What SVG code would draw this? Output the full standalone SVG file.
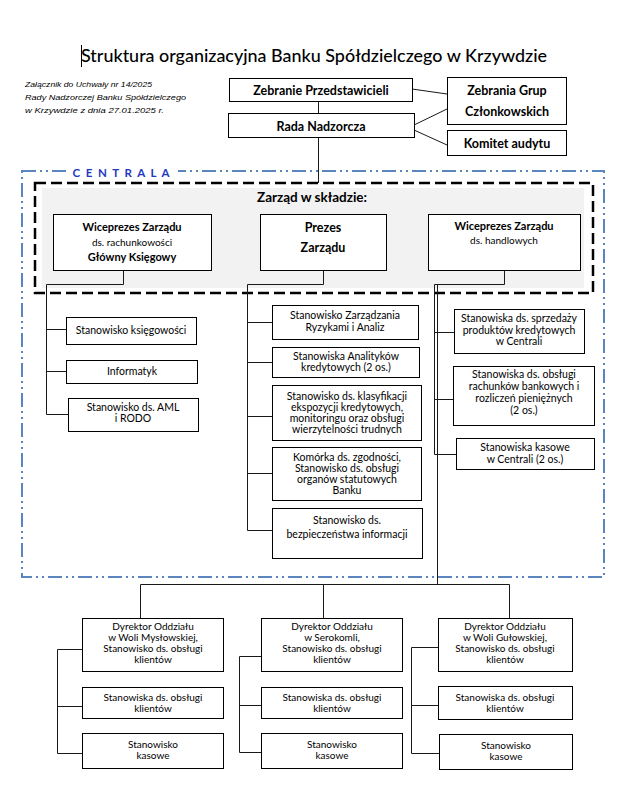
<svg xmlns="http://www.w3.org/2000/svg" width="620" height="801" viewBox="0 0 620 801">
<style>
.bx{fill:#fff;stroke:#000;stroke-width:1}
.ln{fill:none;stroke:#1a1a1a;stroke-width:1}
text{font-family:Lato,"Open Sans","Liberation Sans",sans-serif;fill:#000;text-anchor:middle}
.t{font-size:10.5px}
.s{font-size:10px}
.b{font-weight:bold;font-size:12.5px}
.bs{font-weight:bold;font-size:11px}
.note{font-family:"Liberation Sans",sans-serif;font-style:italic;font-size:8px;text-anchor:start}
</style>
<rect width="620" height="801" fill="#fff"/>
<g id="title">
<line x1="81.5" y1="45" x2="81.5" y2="67" stroke="#000" stroke-width="1"/>
<text x="314" y="62" style="font-size:17px;font-weight:500" textLength="466" lengthAdjust="spacingAndGlyphs">Struktura organizacyjna Banku Spółdzielczego w Krzywdzie</text>
</g>
<g id="note">
<text class="note" x="25" y="87" textLength="127" lengthAdjust="spacingAndGlyphs">Załącznik do Uchwały nr 14/2025</text>
<text class="note" x="25" y="100" textLength="161" lengthAdjust="spacingAndGlyphs">Rady Nadzorczej Banku Spółdzielczego</text>
<text class="note" x="25" y="113" textLength="139" lengthAdjust="spacingAndGlyphs">w Krzywdzie z dnia 27.01.2025 r.</text>
</g>
<g id="centrala">
<rect x="22" y="171" width="582" height="406" fill="none" stroke="#5a85bf" stroke-width="2" stroke-dasharray="14 4 2 4 2 4"/>
<rect x="66" y="164" width="112" height="14" fill="#fff"/>
<text x="121" y="176.5" style="font-size:11.5px;font-weight:bold;fill:#2238c4" textLength="97" lengthAdjust="spacing">C E N T R A L A</text>
</g>
<g id="zarzad">
<rect x="42" y="188" width="542" height="100" fill="#f2f2f2"/>
<rect x="35" y="183" width="558" height="110" fill="none" stroke="#000" stroke-width="2.5" stroke-dasharray="11 5"/>
<text x="312" y="202" style="font-size:13.5px;font-weight:bold">Zarząd w składzie:</text>
</g>
<g id="connectors">
<line class="ln" x1="318.5" y1="101" x2="318.5" y2="113"/>
<line class="ln" x1="412" y1="89" x2="447" y2="94"/>
<line class="ln" x1="414" y1="125" x2="447" y2="109"/>
<line class="ln" x1="414" y1="130" x2="447" y2="145"/>
<line class="ln" x1="318.5" y1="137" x2="318.5" y2="183"/>
<polyline class="ln" points="123.5,270 123.5,284.5 46.5,284.5 46.5,414.5 68,414.5"/>
<line class="ln" x1="46.5" y1="329.5" x2="66" y2="329.5"/>
<line class="ln" x1="46.5" y1="371.5" x2="66" y2="371.5"/>
<polyline class="ln" points="323.5,270 323.5,284.5 247.5,284.5 247.5,530.5 272,530.5"/>
<line class="ln" x1="247.5" y1="322.5" x2="272" y2="322.5"/>
<line class="ln" x1="247.5" y1="362.5" x2="272" y2="362.5"/>
<line class="ln" x1="247.5" y1="416.5" x2="272" y2="416.5"/>
<line class="ln" x1="247.5" y1="473.5" x2="272" y2="473.5"/>
<polyline class="ln" points="504.5,270 504.5,284.5 434.5,284.5 434.5,454.5 456,454.5"/>
<line class="ln" x1="434.5" y1="332.5" x2="454" y2="332.5"/>
<line class="ln" x1="434.5" y1="399.5" x2="453" y2="399.5"/>
<polyline class="ln" points="437.5,284.5 437.5,584.5"/>
<polyline class="ln" points="140.5,618 140.5,584.5 509.5,584.5 509.5,618"/>
<line class="ln" x1="323.5" y1="584.5" x2="323.5" y2="618"/>
<polyline class="ln" points="82,649.5 57.5,649.5 57.5,753.5 82,753.5"/>
<line class="ln" x1="57.5" y1="706.5" x2="82" y2="706.5"/>
<polyline class="ln" points="261,656.5 239.5,656.5 239.5,752.5 261,752.5"/>
<line class="ln" x1="239.5" y1="705.5" x2="261" y2="705.5"/>
<polyline class="ln" points="438,647.5 411.5,647.5 411.5,753.5 439,753.5"/>
<line class="ln" x1="411.5" y1="705.5" x2="438" y2="705.5"/>
</g>
<g id="zebranie"><rect class="bx" x="229.5" y="78.5" width="183" height="23"/><text class="b" x="321" y="94.5">Zebranie Przedstawicieli</text></g>
<g id="rada"><rect class="bx" x="228.5" y="113.5" width="186" height="24"/><text class="b" x="321" y="130.5">Rada Nadzorcza</text></g>
<g id="grupy"><rect class="bx" x="447.5" y="77.5" width="119" height="47"/><text class="b" x="507" y="95">Zebrania Grup</text><text class="b" x="507" y="116">Członkowskich</text></g>
<g id="komitet"><rect class="bx" x="447.5" y="130.5" width="119" height="25"/><text class="b" x="507" y="147.5">Komitet audytu</text></g>
<g id="wiceprezes-rach"><rect class="bx" x="53.5" y="214.5" width="158" height="56"/><text class="bs" x="132" y="231">Wiceprezes Zarządu</text><text class="s" x="132" y="245.5">ds. rachunkowości</text><text class="bs" x="132" y="261">Główny Księgowy</text></g>
<g id="prezes"><rect class="bx" x="260.5" y="214.5" width="126" height="56"/><text class="b" x="323" y="232">Prezes</text><text class="b" x="323" y="252">Zarządu</text></g>
<g id="wiceprezes-handl"><rect class="bx" x="428.5" y="214.5" width="152" height="56"/><text class="bs" x="504" y="229.5">Wiceprezes Zarządu</text><text class="s" x="504" y="244">ds. handlowych</text></g>
<g id="ksiegowosc"><rect class="bx" x="66.5" y="317.5" width="130" height="27"/><text class="t" x="131" y="334">Stanowisko księgowości</text></g>
<g id="informatyk"><rect class="bx" x="66.5" y="360.5" width="131" height="23"/><text class="t" x="132" y="375">Informatyk</text></g>
<g id="aml"><rect class="bx" x="68.5" y="398.5" width="130" height="33"/><text class="t" x="133" y="411">Stanowisko ds. AML</text><text class="t" x="133" y="422">i RODO</text></g>
<g id="ryzyka"><rect class="bx" x="272.5" y="305.5" width="146" height="34"/><text class="t" x="345" y="319">Stanowisko Zarządzania</text><text class="t" x="345" y="330.5">Ryzykami i Analiz</text></g>
<g id="analitycy"><rect class="bx" x="272.5" y="347.5" width="147" height="30"/><text class="t" x="346" y="359.5">Stanowiska Analityków</text><text class="t" x="346" y="371">kredytowych (2 os.)</text></g>
<g id="klasyfikacja"><rect class="bx" x="272.5" y="385.5" width="149" height="55"/><text class="t" x="347" y="400">Stanowisko ds. klasyfikacji</text><text class="t" x="347" y="411">ekspozycji kredytowych,</text><text class="t" x="347" y="422">monitoringu oraz obsługi</text><text class="t" x="347" y="433">wierzytelności trudnych</text></g>
<g id="zgodnosc"><rect class="bx" x="272.5" y="447.5" width="149" height="53"/><text class="t" x="347" y="461">Komórka ds. zgodności,</text><text class="t" x="347" y="472">Stanowisko ds. obsługi</text><text class="t" x="347" y="483">organów statutowych</text><text class="t" x="347" y="494">Banku</text></g>
<g id="bezpieczenstwo"><rect class="bx" x="272.5" y="508.5" width="150" height="50"/><text class="t" x="347" y="524">Stanowisko ds.</text><text class="t" x="347" y="538">bezpieczeństwa informacji</text></g>
<g id="sprzedaz"><rect class="bx" x="454.5" y="309.5" width="130" height="44"/><text class="t" x="519" y="322">Stanowiska ds. sprzedaży</text><text class="t" x="519" y="333.5">produktów kredytowych</text><text class="t" x="519" y="345">w Centrali</text></g>
<g id="rachunki"><rect class="bx" x="453.5" y="366.5" width="141" height="59"/><text class="t" x="524" y="378">Stanowiska ds. obsługi</text><text class="t" x="524" y="390">rachunków bankowych i</text><text class="t" x="524" y="402">rozliczeń pieniężnych</text><text class="t" x="524" y="414">(2 os.)</text></g>
<g id="kasowe-centrala"><rect class="bx" x="456.5" y="438.5" width="138" height="31"/><text class="t" x="525" y="451">Stanowiska kasowe</text><text class="t" x="525" y="463">w Centrali (2 os.)</text></g>
<g id="dyr-wm"><rect class="bx" x="82.5" y="618.5" width="141" height="53"/><text class="s" x="153" y="630">Dyrektor Oddziału</text><text class="s" x="153" y="641">w Woli Mysłowskiej,</text><text class="s" x="153" y="652">Stanowisko ds. obsługi</text><text class="s" x="153" y="663">klientów</text></g>
<g id="obs-wm"><rect class="bx" x="82.5" y="687.5" width="141" height="31"/><text class="s" x="153" y="701">Stanowiska ds. obsługi</text><text class="s" x="153" y="712">klientów</text></g>
<g id="kas-wm"><rect class="bx" x="82.5" y="733.5" width="141" height="35"/><text class="s" x="153" y="748">Stanowisko</text><text class="s" x="153" y="759">kasowe</text></g>
<g id="dyr-s"><rect class="bx" x="261.5" y="618.5" width="141" height="53"/><text class="s" x="332" y="630">Dyrektor Oddziału</text><text class="s" x="332" y="641">w Serokomli,</text><text class="s" x="332" y="652">Stanowisko ds. obsługi</text><text class="s" x="332" y="663">klientów</text></g>
<g id="obs-s"><rect class="bx" x="261.5" y="687.5" width="141" height="31"/><text class="s" x="332" y="701">Stanowiska ds. obsługi</text><text class="s" x="332" y="712">klientów</text></g>
<g id="kas-s"><rect class="bx" x="261.5" y="733.5" width="141" height="35"/><text class="s" x="332" y="748">Stanowisko</text><text class="s" x="332" y="759">kasowe</text></g>
<g id="dyr-wg"><rect class="bx" x="438.5" y="618.5" width="134" height="53"/><text class="s" x="505" y="630">Dyrektor Oddziału</text><text class="s" x="505" y="641">w Woli Gułowskiej,</text><text class="s" x="505" y="652">Stanowisko ds. obsługi</text><text class="s" x="505" y="663">klientów</text></g>
<g id="obs-wg"><rect class="bx" x="438.5" y="686.5" width="134" height="33"/><text class="s" x="505" y="701">Stanowiska ds. obsługi</text><text class="s" x="505" y="712">klientów</text></g>
<g id="kas-wg"><rect class="bx" x="439.5" y="734.5" width="133" height="35"/><text class="s" x="506" y="749">Stanowisko</text><text class="s" x="506" y="760">kasowe</text></g>
</svg>
